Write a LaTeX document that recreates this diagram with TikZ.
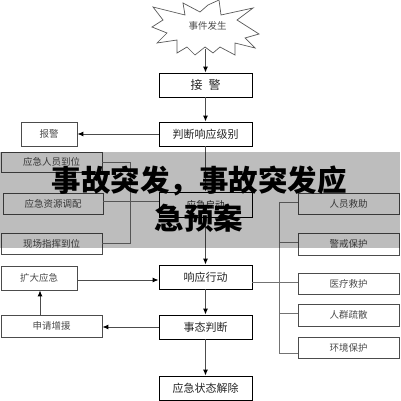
\documentclass[tikz,border=0pt]{standalone}
\usepackage{fontspec}
\newfontfamily\cjk{Noto Sans CJK SC}
\newfontfamily\cjkblack{Noto Sans CJK SC Black}
\usetikzlibrary{arrows.meta}
\begin{document}
\begin{tikzpicture}[x=1pt,y=-1pt,
  cbox/.style={draw=black, line width=0.9pt, minimum width=93pt, minimum height=24pt, inner sep=0pt, font=\cjk\fontsize{11}{13}\selectfont, text=black!85},
  sbox/.style={draw=black!70, line width=0.7pt, inner sep=0pt, font=\cjk\fontsize{9.5}{11}\selectfont, text=black!70},
  rbox/.style={sbox, minimum width=101pt},
  arr/.style={draw=black!70, line width=1pt, -{Latex[length=6pt,width=5pt,color=black]}},
  conn/.style={draw=black!55, line width=0.7pt},
  title/.style={font=\cjkblack\fontsize{29.5}{38}\selectfont, text=black, align=center, inner sep=0pt}
]
\useasboundingbox (0,0) rectangle (400,401);
\fill[white] (0,0) rectangle (400,401);

% star
\draw[draw=black!65, fill=white, line width=0.7pt, line join=miter]
  (153,7) -- (185,15) -- (183,3) -- (200,12) -- (208,5) -- (219,0) -- (221,15)
  -- (253,8) -- (237,20) -- (259,34) -- (245,38) -- (255,48) -- (235,43)
  -- (235,55) -- (220,47) -- (213,53) -- (205,47) -- (195,55) -- (187,47)
  -- (177,53) -- (177,40) -- (157,43) -- (167,33) -- (152,27) -- (163,20) -- cycle;
\node[font=\cjk\fontsize{9.5}{11}\selectfont, text=black!70] (star) at (207.5,26) {事件发生};
\coordinate (starbot) at (205.5,49);

% central column
\node[cbox, font=\cjk\fontsize{12}{14}\selectfont] (jiejing) at (205.5,85) {接\hspace{0.5em}警};
\node[cbox] (panduan) at (205.5,134) {判断响应级别};
\node[cbox, minimum height=25pt, font=\cjk\fontsize{9.5}{11}\selectfont] (qidong) at (205.5,204.5) {应急启动};
\node[cbox] (xiangying) at (205.5,277) {响应行动};
\node[cbox] (shitai) at (205.5,327) {事态判断};
\node[cbox] (jiechu) at (205.5,388) {应急状态解除};

% left column
\node[sbox, minimum width=56pt, minimum height=24pt] (baojing) at (49,134) {报警};
\node[sbox, minimum width=101pt, minimum height=20pt] (renyuan) at (51.5,162) {应急人员到位};
\node[sbox, minimum width=100pt, minimum height=21pt] (ziyuan) at (53,203.5) {应急资源调配};
\node[sbox, minimum width=101pt, minimum height=21pt] (zhihui) at (51.5,243.5) {现场指挥到位};
\node[sbox, minimum width=76pt, minimum height=24pt] (kuoda) at (39,278) {扩大应急};
\node[sbox, minimum width=101pt, minimum height=22pt] (shenqing) at (51.5,326) {申请增援};

% right column
\node[rbox, minimum height=21pt] (jiuzhu) at (348.5,203.5) {人员救助};
\node[rbox, minimum height=22pt] (jingjie) at (348.5,244) {警戒保护};
\node[rbox, minimum height=21pt] (yiliao) at (348.5,283.5) {医疗救护};
\node[rbox, minimum height=22pt] (shusan) at (348.5,315) {人群疏散};
\node[rbox, minimum height=21pt] (huanjing) at (348.5,347.5) {环境保护};

% central arrows
\draw[arr] (starbot) -- (starbot |- jiejing.north);
\draw[arr] (jiejing) -- (panduan);
\draw[arr] (panduan) -- (baojing);
\draw[arr] (panduan) -- (qidong);
\draw[arr] (qidong) -- (xiangying);
\draw[arr] (xiangying) -- (shitai);
\draw[arr] (shitai) -- (jiechu);
\draw[arr] (shitai.west) -- (shenqing.east |- shitai.west);
\draw[arr] (shenqing.north -| 40,0) -- (kuoda.south -| 40,0);
\draw[arr] (kuoda.east |- 0,280) -- (xiangying.west |- 0,280);

% left bracket
\coordinate (lb1) at (130,162);
\coordinate (lb2) at (130,243.5);
\draw[conn] (renyuan.east) -- (lb1) -- (lb2) -- (zhihui.east);
\draw[conn] (ziyuan.east |- 0,201) -- (qidong.west |- 0,201);

% right bracket
\coordinate (rb1) at (279,202);
\coordinate (rb2) at (279,353);
\draw[conn] (jiuzhu.west |- rb1) -- (rb1) -- (rb2) -- (huanjing.west |- rb2);
\draw[conn] (rb1 |- 0,242) -- (jingjie.west |- 0,242);
\draw[conn] (xiangying.east |- 0,282) -- (yiliao.west |- 0,282);
\draw[conn] (rb1 |- 0,313) -- (shusan.west |- 0,313);

% overlay band and title
\fill[black, opacity=0.26] (0,152) rectangle (400,248);
\node[title] (ttl) at (199,199) {事故突发，事故突发应\\急预案};
\end{tikzpicture}
\end{document}
